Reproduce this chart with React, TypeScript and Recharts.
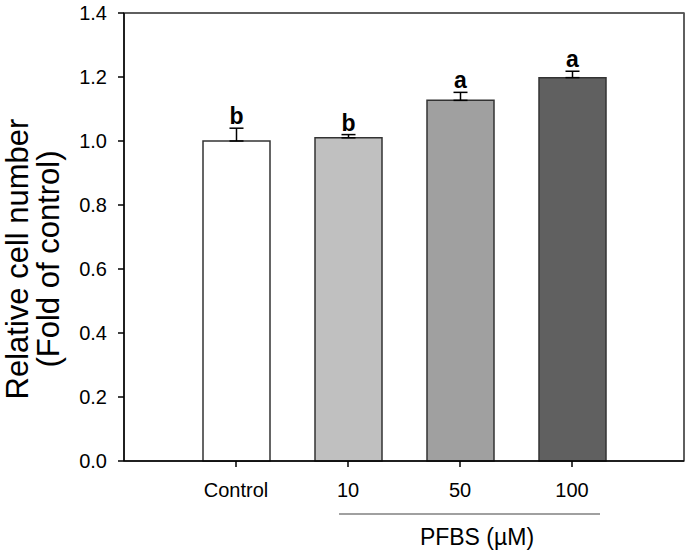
import { BarChart, Bar, XAxis, YAxis, Cell, ErrorBar, LabelList, Label, ReferenceArea, CartesianGrid } from 'recharts';

const groups = ['Control', '10', '50', '100'];
const groupPos = [1, 2, 3, 4];
const cellNumber = [1.0, 1.01, 1.127, 1.198];
const cellError = [0.04, 0.01, 0.025, 0.02];
const letters = ['b', 'b', 'a', 'a'];
const barFills = ['#ffffff', '#c0c0c0', '#a0a0a0', '#606060'];
const yTicks = [0, 0.2, 0.4, 0.6, 0.8, 1.0, 1.2, 1.4];
const xDomain = [0, 5];
const yDomain = [0, 1.4];

const data = groups.map((g, i) => ({
  group: g,
  pos: groupPos[i],
  value: cellNumber[i],
  err: [0, cellError[i]],
  letter: letters[i],
}));

const FONT = '"Liberation Sans", Arial, sans-serif';

function LetterLabel(props: any) {
  const { x, y, width, height, value, index } = props;
  const perUnit = height / cellNumber[index];
  const top = y - cellError[index] * perUnit;
  return (
    <text
      x={x + width / 2}
      y={top - 4}
      textAnchor="middle"
      fontFamily={FONT}
      fontWeight="bold"
      fontSize={23}
      fill="#000"
    >
      {value}
    </text>
  );
}

function YLabel(props: any) {
  const { viewBox } = props;
  const cy = viewBox.y + viewBox.height / 2 + 22;
  return (
    <g fontFamily={FONT} fontSize={31} fill="#000">
      <text x={17} y={cy} transform={`rotate(-90, 17, ${cy})`} textAnchor="middle" dominantBaseline="central">
        Relative cell number
      </text>
      <text x={48} y={cy} transform={`rotate(-90, 48, ${cy})`} textAnchor="middle" dominantBaseline="central">
        (Fold of control)
      </text>
    </g>
  );
}

// PFBS bracket under the 10/50/100 groups
function GroupLabel(props: any) {
  const { viewBox } = props;
  const unit = viewBox.width / (xDomain[1] - xDomain[0]);
  const at = (v: number) => viewBox.x + (v - xDomain[0]) * unit;
  const x1 = at(groupPos[1] - 0.08);
  const x2 = at(groupPos[3] + 0.25);
  const ly = viewBox.y + 53;
  return (
    <g>
      <line x1={x1} x2={x2} y1={ly} y2={ly} stroke="#808080" strokeWidth={1.5} />
      <text
        x={(at(groupPos[1]) + at(groupPos[3])) / 2 + 17}
        y={ly + 31}
        textAnchor="middle"
        fontFamily={FONT}
        fontSize={23}
        fill="#000"
      >
        PFBS (µM)
      </text>
    </g>
  );
}

export default function App() {
  return (
    <div style={{ position: 'absolute', left: 0, top: 0, width: 688, height: 554, background: '#fff' }}>
      <BarChart
        width={688}
        height={554}
        data={data}
        margin={{ top: 13, right: 4, left: 0, bottom: 0 }}
      >
        <CartesianGrid
          horizontalValues={[yDomain[1]]}
          verticalValues={[xDomain[1]]}
          stroke="#555"
          strokeWidth={1.5}
        />
        <ReferenceArea
          x1={xDomain[0]}
          x2={xDomain[1]}
          y1={yDomain[0]}
          y2={yDomain[1]}
          fill="none"
          fillOpacity={0}
          stroke="#555"
          strokeWidth={1.5}
          ifOverflow="visible"
        />
        <XAxis
          dataKey="pos"
          type="number"
          domain={xDomain}
          ticks={groupPos}
          tickFormatter={(v: number) => groups[v - 1]}
          height={93}
          axisLine={{ stroke: '#000', strokeWidth: 1.5 }}
          tickLine={{ stroke: '#000', strokeWidth: 1.5 }}
          tickSize={6}
          tickMargin={16}
          tick={{ fill: '#000', fontSize: 20, fontFamily: FONT }}
          interval={0}
        >
          <Label content={GroupLabel} />
        </XAxis>
        <YAxis
          width={124}
          domain={yDomain}
          ticks={yTicks}
          tickFormatter={(v: number) => v.toFixed(1)}
          axisLine={{ stroke: '#000', strokeWidth: 1.5 }}
          tickLine={{ stroke: '#000', strokeWidth: 1.5 }}
          tickSize={6}
          tickMargin={11}
          tick={{ fill: '#000', fontSize: 20, fontFamily: FONT }}
          interval={0}
        >
          <Label content={YLabel} />
        </YAxis>
        <Bar
          dataKey="value"
          barSize={67}
          stroke="#333"
          strokeWidth={1.5}
          isAnimationActive={false}
        >
          {data.map((d, i) => (
            <Cell key={d.group} fill={barFills[i]} />
          ))}
          <ErrorBar dataKey="err" width={7} stroke="#000" strokeWidth={1.5} direction="y" />
          <LabelList dataKey="letter" content={LetterLabel} />
        </Bar>
      </BarChart>
    </div>
  );
}
